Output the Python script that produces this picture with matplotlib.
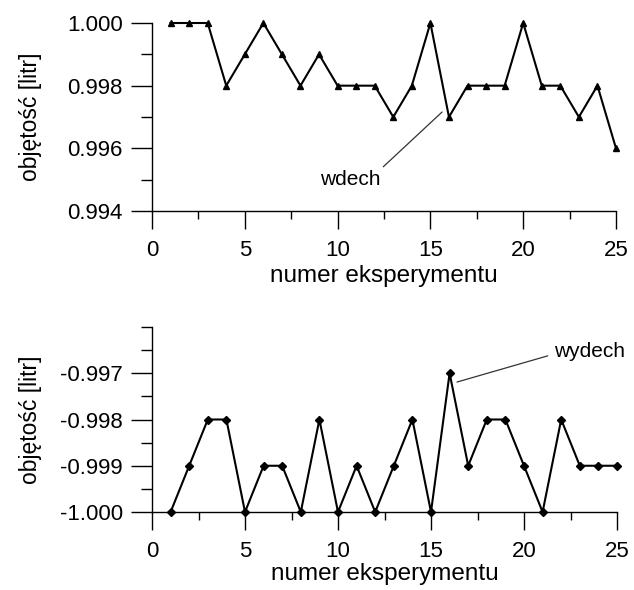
import matplotlib
matplotlib.use("Agg")
import matplotlib.pyplot as plt
from matplotlib.ticker import MultipleLocator, FormatStrFormatter

plt.rcParams['font.family'] = ['Liberation Sans', 'DejaVu Sans']

experiments = list(range(1, 26))
inhale = [1.000, 1.000, 1.000, 0.998, 0.999, 1.000, 0.999, 0.998, 0.999, 0.998,
          0.998, 0.998, 0.997, 0.998, 1.000, 0.997, 0.998, 0.998, 0.998, 1.000,
          0.998, 0.998, 0.997, 0.998, 0.996]
exhale = [-1.000, -0.999, -0.998, -0.998, -1.000, -0.999, -0.999, -1.000, -0.998, -1.000,
          -0.999, -1.000, -0.999, -0.998, -1.000, -0.997, -0.999, -0.998, -0.998, -0.999,
          -1.000, -0.998, -0.999, -0.999, -0.999]
xlabel = "numer eksperymentu"
ylabel = "objętość [litr]"

fig = plt.figure(figsize=(6.34, 5.9), dpi=100)
W, H = 634, 590
ax1 = fig.add_axes([152/W, 1-211/H, (616-152)/W, (211-23)/H])
ax2 = fig.add_axes([152/W, 1-512/H, (617-152)/W, (512-327)/H])

def style(ax, labelpad):
    for s in ('top', 'right'):
        ax.spines[s].set_visible(False)
    for s in ('left', 'bottom'):
        ax.spines[s].set_linewidth(1.0)
    ax.set_xlim(0, 25)
    ax.xaxis.set_major_locator(MultipleLocator(5))
    ax.xaxis.set_minor_locator(MultipleLocator(2.5))
    ax.tick_params(which='major', direction='out', length=13, width=1.0,
                   labelsize=16, colors='black')
    ax.tick_params(which='minor', direction='out', length=6, width=1.0)
    ax.tick_params(axis='x', which='major', pad=8)
    ax.tick_params(axis='y', which='major', length=15, pad=6)
    ax.tick_params(axis='y', which='minor', length=8)
    ax.set_xlabel(xlabel, fontsize=17.5, labelpad=labelpad)
    ax.set_ylabel(ylabel, fontsize=16.5)
    ax.yaxis.set_label_coords(-0.237, 0.5)

style(ax1, 3)
ax1.plot(experiments, inhale, color='black', lw=1.5, marker='^', ms=5,
         clip_on=False, zorder=3)
ax1.set_ylim(0.994, 1.000)
ax1.yaxis.set_major_locator(MultipleLocator(0.002))
ax1.yaxis.set_minor_locator(MultipleLocator(0.001))
ax1.yaxis.set_major_formatter(FormatStrFormatter('%.3f'))
ax1.annotate("wdech", xy=(15.63, 0.99716), xytext=(10.67, 0.99499),
             ha='center', va='center', fontsize=15,
             arrowprops=dict(arrowstyle='-', color='#333333', lw=0.9,
                             shrinkA=1, shrinkB=0, relpos=(0.95, 0.9)))

style(ax2, 0.5)
ax2.plot(experiments, exhale, color='black', lw=1.5, marker='D', ms=4,
         clip_on=False, zorder=3)
ax2.set_ylim(-1.000, -0.996)
ax2.set_yticks([-1.000, -0.999, -0.998, -0.997])
ax2.yaxis.set_minor_locator(MultipleLocator(0.0005))
ax2.yaxis.set_major_formatter(FormatStrFormatter('%.3f'))
ax2.annotate("wydech", xy=(16.4, -0.99719), xytext=(23.55, -0.99654),
             ha='center', va='center', fontsize=15,
             arrowprops=dict(arrowstyle='-', color='#333333', lw=0.9,
                             shrinkA=3, shrinkB=0, relpos=(0.0, 0.4)))

fig.savefig("out.png", dpi=100)
